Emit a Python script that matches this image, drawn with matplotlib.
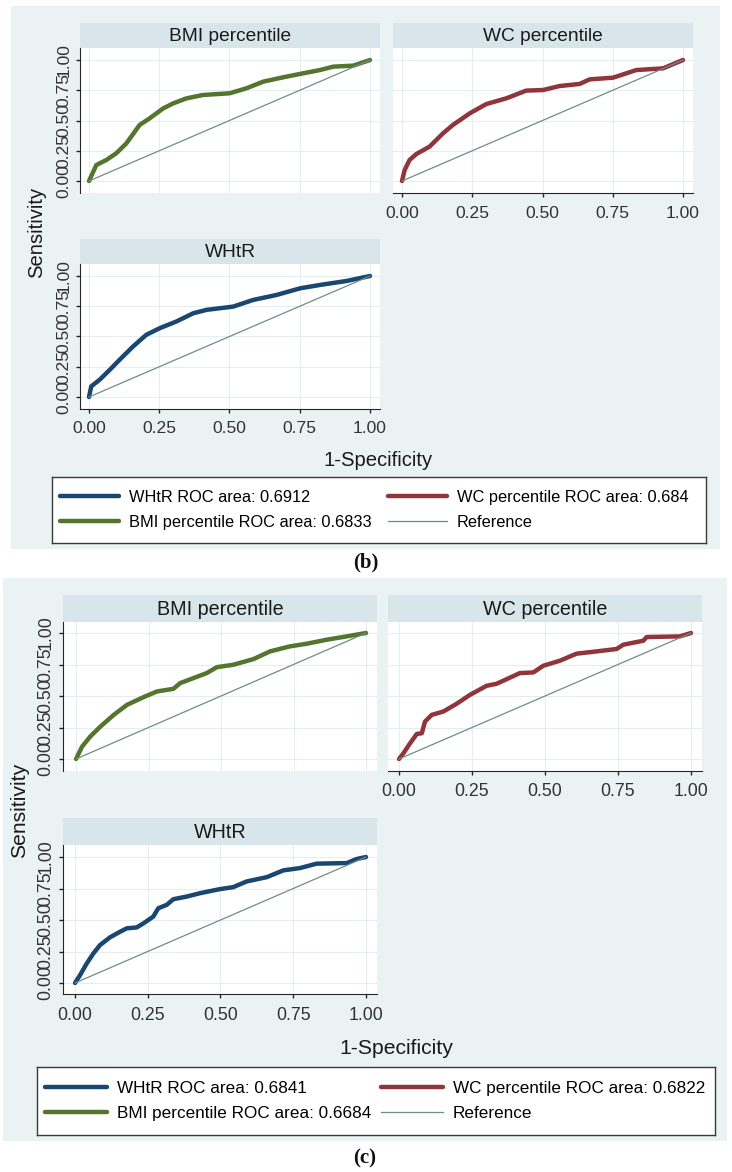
import numpy
import matplotlib
matplotlib.use('Agg')
import matplotlib.pyplot as plt
from matplotlib.patches import Rectangle

plt.rcParams['font.family'] = ['Liberation Sans', 'DejaVu Sans']

W, H = 732, 1172

NAVY = '#1A476F'
MAROON = '#90353B'
GREEN = '#55752F'
TEAL = '#6E8E84'
BG = '#EAF2F3'
STRIP = '#D8E5EA'
GRID = '#E4EDF0'
AXIS = '#262626'

ticks = [0, 0.25, 0.5, 0.75, 1]
tick_labels = ['0.00', '0.25', '0.50', '0.75', '1.00']
ref_x = [0, 1]
ref_y = [0, 1]

# ---- panel (b) ----
b_bmi_fpr = [0, 0.026, 0.062, 0.097, 0.133, 0.18, 0.216, 0.264, 0.3, 0.347, 0.406,
             0.501, 0.56, 0.62, 0.691, 0.762, 0.822, 0.869, 0.94, 1]
b_bmi_tpr = [0, 0.132, 0.174, 0.229, 0.311, 0.463, 0.518, 0.6, 0.642, 0.683, 0.711,
             0.725, 0.766, 0.821, 0.857, 0.89, 0.917, 0.945, 0.953, 1]
b_wc_fpr = [0, 0.0095, 0.027, 0.051, 0.098, 0.146, 0.181, 0.241, 0.3, 0.371, 0.442,
            0.502, 0.561, 0.632, 0.668, 0.751, 0.834, 0.929, 1]
b_wc_tpr = [0, 0.091, 0.174, 0.223, 0.284, 0.394, 0.463, 0.559, 0.636, 0.683, 0.747,
            0.752, 0.785, 0.802, 0.84, 0.854, 0.917, 0.931, 1]
b_whtr_fpr = [0, 0.008, 0.038, 0.074, 0.109, 0.157, 0.204, 0.252, 0.311, 0.371, 0.418,
              0.513, 0.584, 0.667, 0.751, 0.822, 0.917, 1]
b_whtr_tpr = [0, 0.088, 0.143, 0.225, 0.308, 0.418, 0.514, 0.569, 0.624, 0.692, 0.72,
              0.747, 0.802, 0.843, 0.898, 0.926, 0.959, 1]
b_labels = ['WHtR ROC area: 0.6912', 'BMI percentile ROC area: 0.6833',
            'WC percentile ROC area: 0.684', 'Reference']

# ---- panel (c) ----
c_bmi_fpr = [0, 0.021, 0.049, 0.084, 0.13, 0.176, 0.233, 0.279, 0.336, 0.359, 0.405,
             0.451, 0.486, 0.543, 0.612, 0.669, 0.738, 0.796, 0.865, 0.933, 1]
c_bmi_tpr = [0, 0.098, 0.178, 0.257, 0.35, 0.43, 0.491, 0.536, 0.557, 0.602, 0.642,
             0.682, 0.729, 0.748, 0.793, 0.854, 0.894, 0.915, 0.947, 0.973, 1]
c_wc_fpr = [0, 0.015, 0.038, 0.061, 0.078, 0.089, 0.112, 0.152, 0.197, 0.243, 0.3,
            0.334, 0.369, 0.414, 0.46, 0.494, 0.551, 0.608, 0.677, 0.745, 0.768,
            0.837, 0.848, 0.962, 1]
c_wc_tpr = [0, 0.045, 0.125, 0.199, 0.204, 0.297, 0.35, 0.377, 0.438, 0.509, 0.581,
            0.597, 0.634, 0.682, 0.687, 0.74, 0.78, 0.836, 0.854, 0.873, 0.907,
            0.939, 0.968, 0.973, 1]
c_whtr_fpr = [0, 0.017, 0.04, 0.063, 0.086, 0.12, 0.155, 0.178, 0.212, 0.235, 0.269,
              0.286, 0.315, 0.338, 0.384, 0.43, 0.498, 0.544, 0.59, 0.659, 0.716,
              0.773, 0.83, 0.934, 0.968, 1]
c_whtr_tpr = [0, 0.061, 0.154, 0.234, 0.301, 0.362, 0.407, 0.434, 0.441, 0.473, 0.527,
              0.593, 0.62, 0.665, 0.686, 0.713, 0.745, 0.761, 0.806, 0.84, 0.894,
              0.912, 0.947, 0.952, 0.984, 1]
c_labels = ['WHtR ROC area: 0.6841', 'BMI percentile ROC area: 0.6684',
            'WC percentile ROC area: 0.6822', 'Reference']


def px_box(x0, y0, x1, y1):
    return [x0 / W, 1 - y1 / H, (x1 - x0) / W, (y1 - y0) / H]


def px_pt(x, y):
    return x / W, 1 - y / H


def calib(p0, p1, at0, at1):
    # pixel edges of the plot area -> data limits, given pixels of value 0 and 1
    return (p0 - at0) / (at1 - at0), (p1 - at0) / (at1 - at0)


def draw_roc(fig, plot, strip, xcal, ycal, title, fpr, tpr, color,
             show_x, show_y, fs_tick, fs_title):
    sax = fig.add_axes(px_box(*strip))
    sax.set_facecolor(STRIP)
    sax.set_xticks([])
    sax.set_yticks([])
    for s in sax.spines.values():
        s.set_visible(False)
    sax.text(0.5, 0.45, title, ha='center', va='center', fontsize=fs_title,
             color='#1a1a1a', transform=sax.transAxes)

    ax = fig.add_axes(px_box(*plot))
    ax.set_facecolor('white')
    roc, = ax.plot(fpr, tpr, color=color, lw=3.2, solid_joinstyle='round',
                   solid_capstyle='round', zorder=3)
    ref, = ax.plot(ref_x, ref_y, color=TEAL, lw=0.9, zorder=4)
    ax.set_xlim(calib(plot[0], plot[2], xcal[0], xcal[1]))
    y0, y1 = calib(plot[3], plot[1], ycal[0], ycal[1])
    ax.set_ylim(y0, y1)
    ax.set_xticks(ticks)
    ax.set_yticks(ticks)
    ax.set_xticklabels(tick_labels)
    ax.set_yticklabels(tick_labels)
    ax.grid(True, color=GRID, lw=0.8)
    ax.set_axisbelow(True)
    for s in ax.spines.values():
        s.set_visible(False)
    ax.tick_params(colors=AXIS, labelcolor='#333333', labelsize=fs_tick,
                   direction='out', length=3, width=1)
    if show_x:
        ax.spines['bottom'].set_visible(True)
        ax.spines['bottom'].set_color(AXIS)
        ax.tick_params(axis='x', pad=6)
    else:
        ax.tick_params(axis='x', length=0, labelbottom=False)
    if show_y:
        ax.spines['left'].set_visible(True)
        ax.spines['left'].set_color(AXIS)
        ax.tick_params(axis='y', pad=3)
        plt.setp(ax.get_yticklabels(), rotation=90, va='center')
    else:
        ax.tick_params(axis='y', length=0, labelleft=False)
    return roc, ref


def draw_legend(fig, box, handles, labels, fs, inset, colsp):
    lax = fig.add_axes(px_box(*box))
    lax.set_facecolor('white')
    lax.set_xticks([])
    lax.set_yticks([])
    for s in lax.spines.values():
        s.set_color('#3a3a3a')
        s.set_linewidth(1.0)
    lax.legend(handles, labels, ncol=2, loc='center left',
               bbox_to_anchor=(inset / (box[2] - box[0]), 0.5),
               frameon=False, fontsize=fs, handlelength=3.6, handletextpad=0.6,
               columnspacing=colsp, labelspacing=0.62, borderpad=0, borderaxespad=0)


fig = plt.figure(figsize=(W / 100, H / 100), dpi=100)
fig.patch.set_facecolor('white')

# ---------------- (b) ----------------
fig.patches.append(Rectangle(px_pt(11, 549), 709 / W, 543 / H, transform=fig.transFigure,
                             facecolor=BG, edgecolor='none', zorder=-5))
l_bmi = draw_roc(fig, (80, 48, 380, 193), (80, 23, 380, 48), (89, 370), (181, 60),
                 'BMI percentile', b_bmi_fpr, b_bmi_tpr, GREEN, False, True, 12.6, 13.8)
l_wc = draw_roc(fig, (393, 48, 693, 193), (393, 23, 693, 48), (402, 683), (181, 60),
                'WC percentile', b_wc_fpr, b_wc_tpr, MAROON, True, False, 12.6, 13.8)
l_whtr = draw_roc(fig, (80, 264, 380, 409), (80, 239, 380, 264), (89, 370), (397, 276),
                  'WHtR', b_whtr_fpr, b_whtr_tpr, NAVY, True, True, 12.6, 13.8)
fig.text(*px_pt(37, 232), 'Sensitivity', rotation=90, ha='center', va='center',
         fontsize=14.6, color='#1a1a1a')
fig.text(*px_pt(378, 460), '1-Specificity', ha='center', va='center',
         fontsize=14.6, color='#1a1a1a')
draw_legend(fig, (52, 477, 706, 543), [l_whtr[0], l_bmi[0], l_wc[0], l_bmi[1]],
            b_labels, 11.8, 8, 1.0)
fig.text(*px_pt(366, 562), '(b)', ha='center', va='center', fontsize=15,
         family='Liberation Serif', fontweight='bold', color='#111111')

# ---------------- (c) ----------------
fig.patches.append(Rectangle(px_pt(3, 1141), 724 / W, 563 / H, transform=fig.transFigure,
                             facecolor=BG, edgecolor='none', zorder=-5))
m_bmi = draw_roc(fig, (63, 622, 377, 771), (63, 595, 377, 622), (76, 366), (759, 633),
                 'BMI percentile', c_bmi_fpr, c_bmi_tpr, GREEN, False, True, 12.8, 14.2)
m_wc = draw_roc(fig, (388, 622, 702, 771), (388, 595, 702, 622), (399, 691), (759, 633),
                'WC percentile', c_wc_fpr, c_wc_tpr, MAROON, True, False, 12.8, 14.2)
m_whtr = draw_roc(fig, (63, 845, 377, 994), (63, 818, 377, 845), (75, 366), (983, 857),
                  'WHtR', c_whtr_fpr, c_whtr_tpr, NAVY, True, True, 12.8, 14.2)
fig.text(*px_pt(20, 810), 'Sensitivity', rotation=90, ha='center', va='center',
         fontsize=15.2, color='#1a1a1a')
fig.text(*px_pt(396, 1049), '1-Specificity', ha='center', va='center',
         fontsize=15.2, color='#1a1a1a')
draw_legend(fig, (37, 1067, 715, 1135), [m_whtr[0], m_bmi[0], m_wc[0], m_bmi[1]],
            c_labels, 12.3, 8, 0.6)
fig.text(*px_pt(365, 1158), '(c)', ha='center', va='center', fontsize=15,
         family='Liberation Serif', fontweight='bold', color='#111111')

fig.savefig('out.png', dpi=100, facecolor='white')
